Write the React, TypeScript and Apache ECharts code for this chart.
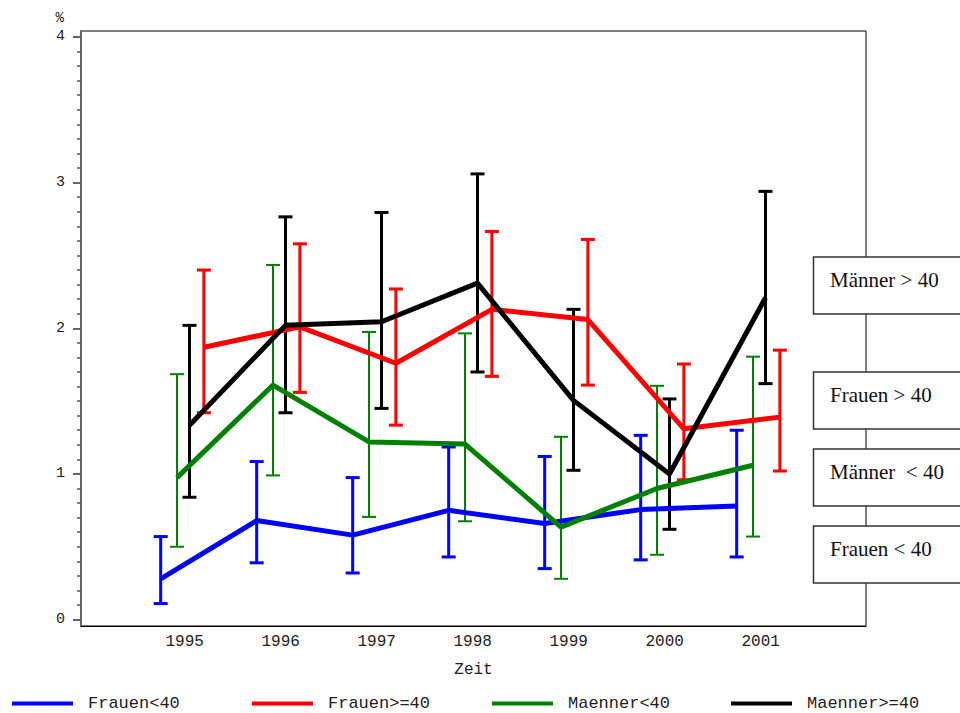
import React, { useEffect, useRef } from "react";
import * as echarts from "echarts";

// ---- data ----
const years = [1995, 1996, 1997, 1998, 1999, 2000, 2001];
const yTickLabels = [0, 1, 2, 3, 4];
const seriesNames = ["Frauen<40", "Frauen>=40", "Maenner<40", "Maenner>=40"];
const boxLabels = ["Männer > 40", "Frauen > 40", "Männer  < 40", "Frauen < 40"];

const frauenU40Mean = [0.28, 0.68, 0.58, 0.75, 0.66, 0.755, 0.78];
const frauenU40Low = [0.11, 0.39, 0.32, 0.43, 0.35, 0.41, 0.43];
const frauenU40High = [0.57, 1.085, 0.975, 1.185, 1.12, 1.265, 1.3];

const frauenO40Mean = [1.87, 2.01, 1.76, 2.13, 2.06, 1.31, 1.39];
const frauenO40Low = [1.42, 1.56, 1.335, 1.67, 1.61, 0.96, 1.02];
const frauenO40High = [2.4, 2.58, 2.27, 2.665, 2.61, 1.755, 1.85];

const maennerU40Mean = [0.975, 1.61, 1.22, 1.205, 0.635, 0.9, 1.06];
const maennerU40Low = [0.5, 0.99, 0.705, 0.675, 0.28, 0.445, 0.57];
const maennerU40High = [1.685, 2.435, 1.975, 1.965, 1.255, 1.605, 1.805];

const maennerO40Mean = [1.335, 2.02, 2.045, 2.31, 1.505, 1.0, 2.21];
const maennerO40Low = [0.84, 1.42, 1.45, 1.7, 1.025, 0.62, 1.62];
const maennerO40High = [2.02, 2.765, 2.795, 3.06, 2.13, 1.515, 2.94];

// horizontal jitter (in years) of each group around the year
const yearOffsets = [-0.25, 0.2, -0.08, 0.05];

const MONO = "'Liberation Mono', 'DejaVu Sans Mono', monospace";
const SERIF = "'Liberation Serif', 'DejaVu Serif', serif";

function errorBars(name: string, color: string, lw: number, offset: number, lows: number[], highs: number[]) {
  return {
    type: "custom",
    name,
    data: years.map((y, i) => [y + offset, lows[i], highs[i]]),
    encode: { x: 0, y: [1, 2] },
    renderItem: (params: any, api: any) => {
      const x = api.value(0);
      const top = api.coord([x, api.value(2)]);
      const bot = api.coord([x, api.value(1)]);
      const hw = 7;
      const style = { stroke: color, lineWidth: lw, fill: "none" };
      return {
        type: "group",
        children: [
          { type: "line", shape: { x1: top[0], y1: top[1], x2: bot[0], y2: bot[1] }, style },
          { type: "line", shape: { x1: top[0] - hw, y1: top[1], x2: top[0] + hw, y2: top[1] }, style },
          { type: "line", shape: { x1: bot[0] - hw, y1: bot[1], x2: bot[0] + hw, y2: bot[1] }, style },
        ],
      };
    },
  };
}

function meanLine(name: string, color: string, offset: number, means: number[]) {
  return {
    type: "line",
    name,
    data: years.map((y, i) => [y + offset, means[i]]),
    symbol: "none",
    lineStyle: { color, width: 5 },
    itemStyle: { color },
  };
}

const minorTicks: number[] = [];
for (let i = 0; i < 40; i++) {
  if (i % 10 !== 0) minorTicks.push(i / 10);
}

export default function App() {
  const ref = useRef<HTMLDivElement>(null);
  useEffect(() => {
    document.body.style.margin = "0";
    if (!ref.current) return;
    const chart = echarts.init(ref.current, undefined, { renderer: "svg" });
    const colors = ["#0000ff", "#ff0000", "#008000", "#000000"];
    const means = [frauenU40Mean, frauenO40Mean, maennerU40Mean, maennerO40Mean];
    const lows = [frauenU40Low, frauenO40Low, maennerU40Low, maennerO40Low];
    const highs = [frauenU40High, frauenO40High, maennerU40High, maennerO40High];
    const barWidths = [3, 3, 2, 3];
    const series: any[] = [];
    seriesNames.forEach((n, i) => {
      series.push(errorBars(n + " KI", colors[i], barWidths[i], yearOffsets[i], lows[i], highs[i]));
      series.push(meanLine(n, colors[i], yearOffsets[i], means[i]));
    });
    const legendLeft = [12, 252, 492, 731];
    const boxTops = [257, 372, 449, 526];
    chart.setOption({
      animation: false,
      backgroundColor: "#fff",
      grid: {
        show: true,
        left: 81,
        top: 31,
        width: 785,
        height: 595,
        borderColor: "#000",
        borderWidth: 1,
        backgroundColor: "transparent",
      },
      xAxis: {
        type: "value",
        min: 1993.92,
        max: 2002.097,
        name: "Zeit",
        nameLocation: "middle",
        nameGap: 36,
        nameTextStyle: { fontFamily: MONO, fontSize: 16, color: "#222" },
        axisLine: { show: true, onZero: false, lineStyle: { color: "#000", width: 1 } },
        axisTick: { show: false },
        splitLine: { show: false },
        axisLabel: {
          customValues: years,
          formatter: (v: number) => String(v),
          fontFamily: MONO,
          fontSize: 16,
          color: "#222",
          margin: 8,
        },
      },
      yAxis: [
        {
          type: "value",
          position: "left",
          min: -0.044,
          max: 4.041,
          name: "%",
          nameLocation: "end",
          nameGap: 6,
          nameTextStyle: { fontFamily: MONO, fontSize: 14, color: "#222", align: "right", padding: [0, 17, 0, 0] },
          axisLine: { show: true, onZero: false, lineStyle: { color: "#666", width: 2 } },
          axisTick: { show: true, customValues: yTickLabels, length: 8, lineStyle: { color: "#666", width: 2 } },
          splitLine: { show: false },
          axisLabel: {
            customValues: yTickLabels,
            formatter: (v: number) => String(v),
            fontFamily: MONO,
            fontSize: 15,
            color: "#222",
            margin: 16,
          },
        },
        {
          type: "value",
          position: "left",
          offset: 0,
          min: -0.044,
          max: 4.041,
          axisLine: { show: false, onZero: false },
          axisTick: { show: true, customValues: minorTicks, length: 4, lineStyle: { color: "#555", width: 1.5 } },
          splitLine: { show: false },
          axisLabel: { show: false },
        },
      ],
      legend: seriesNames.map((n, i) => ({
        data: [n],
        left: legendLeft[i],
        top: 695,
        padding: 0,
        icon: "rect",
        itemWidth: 61,
        itemHeight: 4,
        selectedMode: false,
        textStyle: { fontFamily: MONO, fontSize: 17, lineHeight: 15, color: "#222", padding: [0, 0, 0, 10] },
      })),
      series,
      graphic: boxLabels.map((t, i) => ({
        type: "group",
        z: 100,
        children: [
          {
            type: "rect",
            shape: { x: 813.5, y: boxTops[i], width: 160, height: 57 },
            style: { fill: "#fff", stroke: "#333", lineWidth: 1.5 },
          },
          {
            type: "text",
            x: 830,
            y: boxTops[i] + 23,
            style: { text: t, font: `21px ${SERIF}`, fill: "#111", verticalAlign: "middle", align: "left" },
          },
        ],
      })),
    });
    return () => chart.dispose();
  }, []);
  return <div ref={ref} style={{ width: 960, height: 713 }} />;
}
